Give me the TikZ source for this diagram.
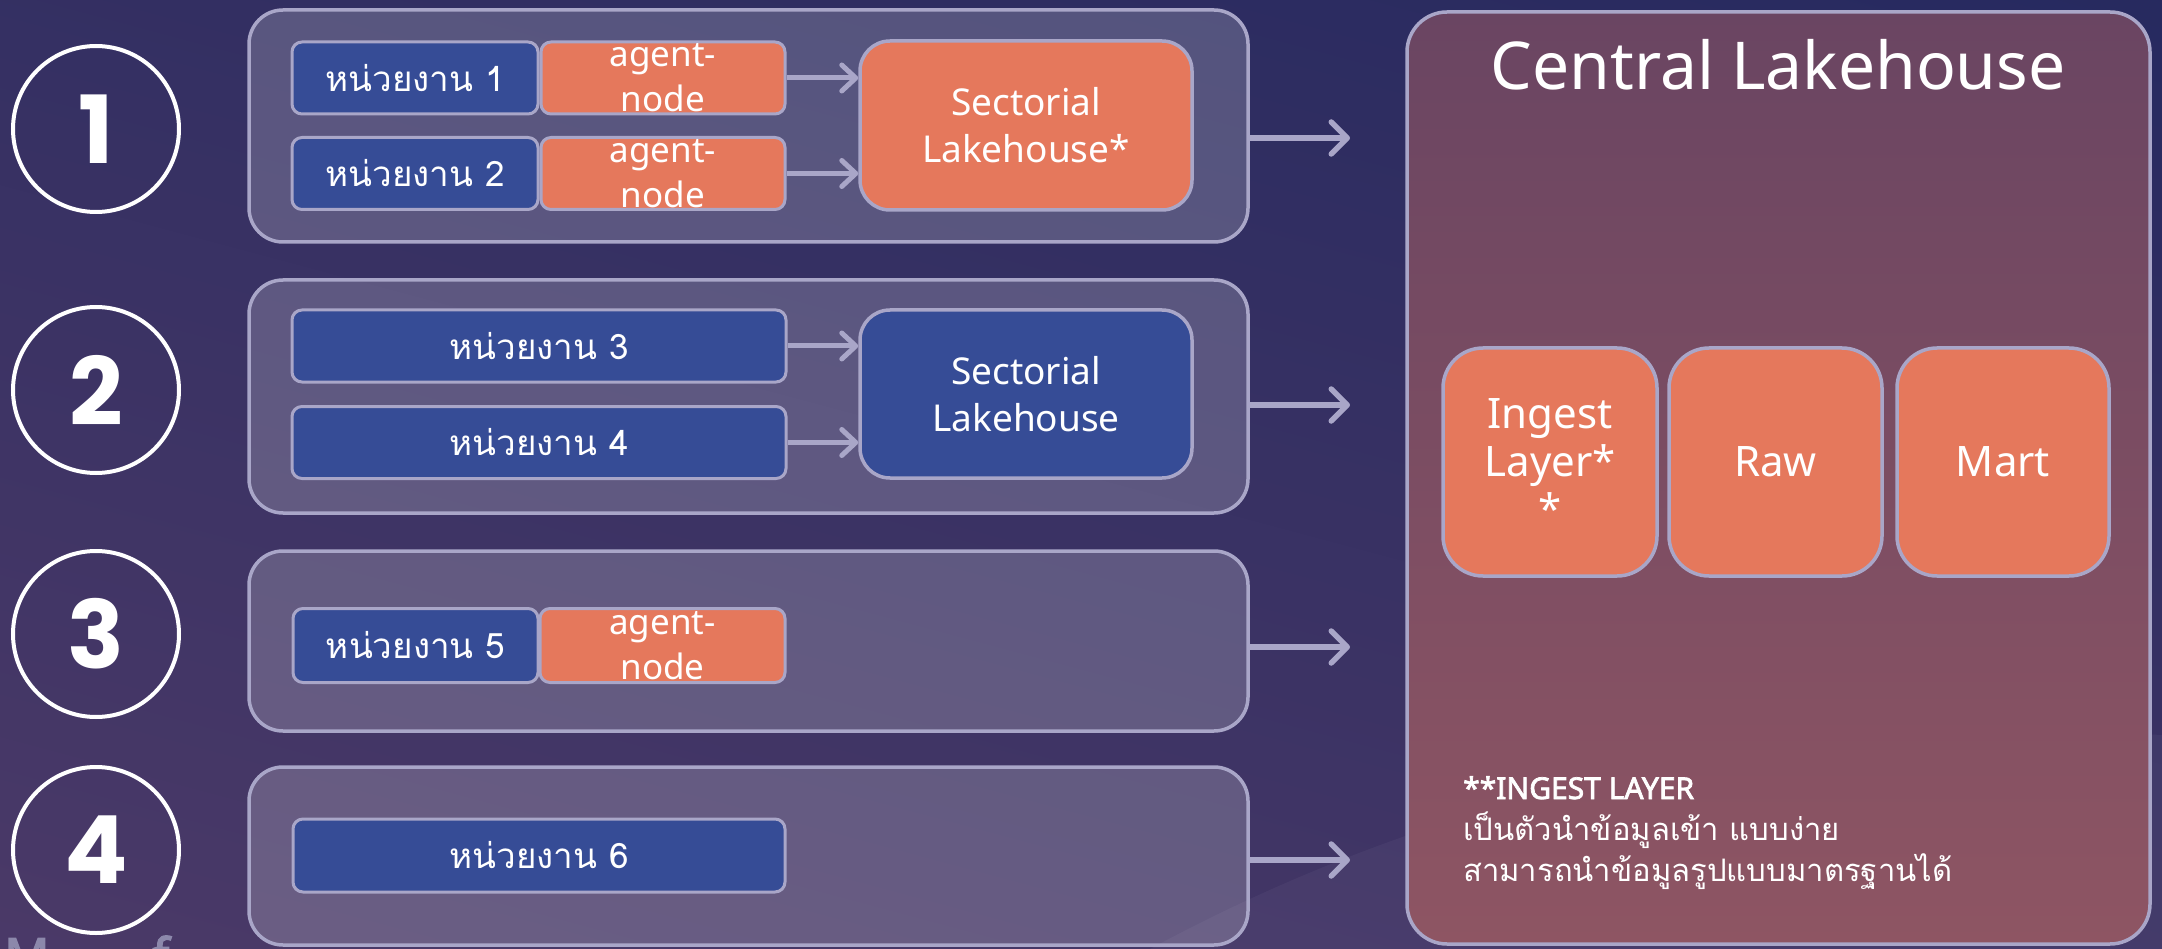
\documentclass[tikz,border=0pt]{standalone}
\usepackage{fontspec}
\setmainfont{Noto Sans}[AutoFakeBold=2.5]
\newfontfamily\thai[Script=Thai]{Loma}
\newfontfamily\numfont{Poppins}
\usetikzlibrary{arrows.meta}
\definecolor{bgtop}{HTML}{25295F}
\definecolor{bgbot}{HTML}{4C3A68}
\definecolor{edge}{HTML}{A9A6C8}
\definecolor{unitblue}{HTML}{364C96}
\definecolor{agentor}{HTML}{E5785C}
\definecolor{cltop}{HTML}{6A4562}
\definecolor{clbot}{HTML}{8E5563}
\definecolor{mark}{HTML}{8C88AB}
\tikzset{
  group/.style={draw=edge, line width=3.5pt, rounded corners=34pt, fill=white, fill opacity=0.19, text opacity=1},
  unitbox/.style={draw=edge, line width=3pt, rounded corners=10pt, fill=unitblue, text=white, inner sep=0pt,
    font=\thai\fontsize{35}{40}\selectfont},
  agentbox/.style={draw=edge, line width=3pt, rounded corners=10pt, fill=agentor, text=white, inner sep=0pt, align=center,
    font=\fontsize{35}{45}\selectfont},
  sectbox/.style={draw=edge, line width=3.5pt, rounded corners=30pt, text=white, inner sep=0pt, align=center,
    font=\fontsize{37}{47}\selectfont},
  layerbox/.style={draw=edge, line width=3.5pt, rounded corners=40pt, fill=agentor, text=white, inner sep=0pt, align=center,
    font=\fontsize{42}{48}\selectfont, minimum height=228pt},
  numcircle/.style={circle, draw=white, line width=4pt, minimum size=166pt, inner sep=0pt, text=white,
    font=\numfont\bfseries\fontsize{94}{94}\selectfont},
  flow/.style={draw=edge, line width=5pt, -{Straight Barb[length=14pt, width=26pt, line cap=round, line join=round]}},
  gflow/.style={draw=edge, line width=5.5pt, -{Straight Barb[length=16pt, width=32pt, line cap=round, line join=round]}},
}
\begin{document}
\begin{tikzpicture}[x=1pt, y=-1pt]
\useasboundingbox (0,0) rectangle (2162,949);
% background
\shade[top color=bgtop, bottom color=bgbot, shading angle=-15] (-200,-200) rectangle (2362,1149);
\fill[white, fill opacity=0.04] (1150,949) .. controls (1500,760) and (1850,720) .. (2162,735) -- (2162,949) -- cycle;

% step circles
\node[numcircle] (c1) at (96,129) {1};
\node[numcircle] (c2) at (96,390) {2};
\node[numcircle] (c3) at (96,634) {3};
\node[numcircle] (c4) at (96,850) {4};

% group boxes
\node[group, minimum width=999pt, minimum height=232pt] (g1) at (748.5,126) {};
\node[group, minimum width=999pt, minimum height=233pt] (g2) at (748.5,396.5) {};
\node[group, minimum width=999pt, minimum height=180pt] (g3) at (748.5,641) {};
\node[group, minimum width=999pt, minimum height=178pt] (g4) at (748.5,856) {};

% group 1
\node[unitbox, minimum width=246pt, minimum height=72pt] (u1) at (415,78) {หน่วยงาน 1};
\node[agentbox, minimum width=244pt, minimum height=72pt] (a1) at (663,78) {agent-\\node};
\node[unitbox, minimum width=246pt, minimum height=72pt] (u2) at (415,173.5) {หน่วยงาน 2};
\node[agentbox, minimum width=244pt, minimum height=72pt] (a2) at (663,173.5) {agent-\\node};
\node[sectbox, fill=agentor, minimum width=332pt, minimum height=169pt] (s1) at (1026,125.5) {Sectorial\\Lakehouse*};
\draw[flow] (a1.east) -- (s1.west |- a1.east);
\draw[flow] (a2.east) -- (s1.west |- a2.east);

% group 2
\node[unitbox, minimum width=494pt, minimum height=72pt] (u3) at (539,346) {หน่วยงาน 3};
\node[unitbox, minimum width=494pt, minimum height=72pt] (u4) at (539,442.5) {หน่วยงาน 4};
\node[sectbox, fill=unitblue, minimum width=332pt, minimum height=168pt] (s2) at (1026,394) {Sectorial\\Lakehouse};
\draw[flow] (u3.east) -- (s2.west |- u3.east);
\draw[flow] (u4.east) -- (s2.west |- u4.east);

% group 3
\node[unitbox, minimum width=245pt, minimum height=74pt] (u5) at (415.5,645.5) {หน่วยงาน 5};
\node[agentbox, minimum width=245pt, minimum height=74pt] (a5) at (662.5,645.5) {agent-\\node};

% group 4
\node[unitbox, minimum width=492pt, minimum height=73pt] (u6) at (539,855.5) {หน่วยงาน 6};

% central lakehouse
\shade[top color=cltop, bottom color=clbot, rounded corners=40pt] (1407,12) rectangle (2150,944);
\node[draw=edge, line width=3.5pt, rounded corners=40pt, minimum width=743pt, minimum height=932pt] (cl) at (1778.5,478) {};
\node[text=white, font=\fontsize{66}{70}\selectfont, inner sep=0pt] (title) at (1778,65) {Central Lakehouse};
\node[layerbox, minimum width=214pt] (ing) at (1550,462) {Ingest\\Layer*\\*};
\node[layerbox, minimum width=213pt] (raw) at (1775.5,462) {Raw};
\node[layerbox, minimum width=212pt] (mart) at (2003,462) {Mart};

\node[text=white, anchor=north west, align=left, inner sep=0pt, font=\fontsize{30}{41}\selectfont] (note) at (1463,776)
  {\textbf{**INGEST LAYER}\\{\thai\fontsize{31}{41}\selectfont เป็นตัวนำข้อมูลเข้า แบบง่าย}\\{\thai\fontsize{31}{41}\selectfont สามารถนำข้อมูลรูปแบบมาตรฐานได้}};

% flows to central
\coordinate (t1) at (1350,138);
\coordinate (t2) at (1350,405);
\coordinate (t3) at (1350,647);
\coordinate (t4) at (1350,860);
\draw[gflow] (g1.east |- t1) -- (t1);
\draw[gflow] (g2.east |- t2) -- (t2);
\draw[gflow] (g3.east |- t3) -- (t3);
\draw[gflow] (g4.east |- t4) -- (t4);

% clipped watermark
\begin{scope}
\clip (0,0) rectangle (2162,949);
\node[text=mark, anchor=base west, inner sep=0pt, font=\bfseries\fontsize{50}{50}\selectfont] (wm1) at (4,974) {M};
\node[text=mark, anchor=base west, inner sep=0pt, font=\bfseries\fontsize{50}{50}\selectfont] (wm2) at (152,974) {f};
\end{scope}
\end{tikzpicture}
\end{document}
